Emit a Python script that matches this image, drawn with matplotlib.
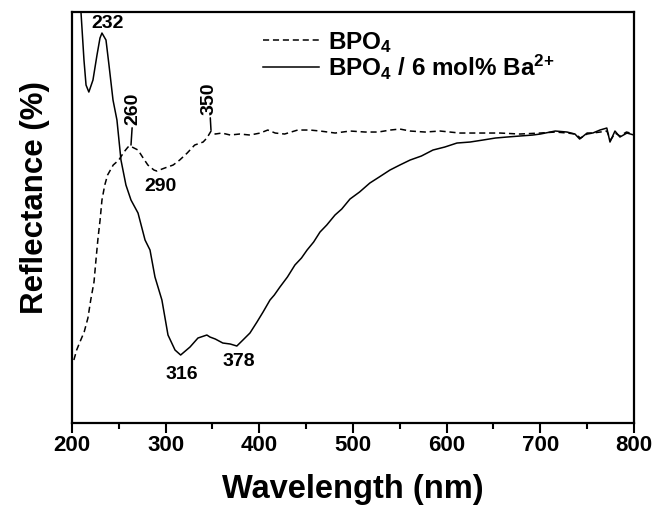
import matplotlib
matplotlib.use("Agg")
import matplotlib.pyplot as plt
from matplotlib.ticker import MultipleLocator

plt.rcParams["font.family"] = ["Liberation Sans", "DejaVu Sans"]
plt.rcParams["font.weight"] = "bold"
plt.rcParams["mathtext.fontset"] = "custom"
plt.rcParams["mathtext.rm"] = "Liberation Sans:bold"
plt.rcParams["mathtext.bf"] = "Liberation Sans:bold"
plt.rcParams["mathtext.default"] = "rm"

# BPO4 (dashed), wavelength in nm, reflectance in arbitrary units
bpo4_wl = [202, 205, 208, 213, 217, 220, 223.5, 225.6, 227.8, 230, 232, 235, 238,
           244, 250, 255.5, 259.8, 262, 270.5, 276, 281, 287.5, 290.5, 299, 308,
           315, 323, 331, 340, 344, 348.5, 353, 360, 369, 379, 390, 401, 409, 417,
           427, 441, 454, 465, 481, 497, 513, 527, 540, 550, 561, 577, 593, 614,
           636, 657, 678, 700, 716, 729, 737, 743, 750, 756, 764, 771, 775, 780,
           785, 792, 800]
bpo4_r = [63, 73, 80, 91, 105, 123, 141, 163, 185, 203, 223, 238, 248,
          258, 263, 271, 276, 277, 273, 265, 258, 253, 252, 255, 258,
          263, 270, 278, 281, 285, 292, 289, 290, 288, 289, 288, 290, 293, 290,
          289, 293, 293, 292, 290, 292, 291, 291, 293, 294, 292, 291, 292, 290,
          290, 290, 289, 290, 291, 290, 289, 285, 289, 290, 291, 292, 283, 290,
          287, 291, 289]

# BPO4 / 6 mol% Ba2+ (solid)
ba_wl = [206, 209.6, 212.8, 215, 218, 222.4, 226.7, 229.9, 232, 236.3, 239.5,
         243.8, 248, 252.3, 257.6, 263, 270.5, 278, 283.3, 288.6, 296, 302.5,
         310, 316, 326, 334.5, 344, 347.3, 353, 361, 369, 376, 382.5, 390, 397.5,
         404, 411.4, 416, 422, 430, 438, 445, 451, 458, 464.8, 472, 480.8, 488,
         496.8, 507, 518, 528, 539.5, 550, 561, 573, 585.4, 598, 611, 625,
         638.8, 652, 664.4, 678, 692, 700, 716, 728.5, 737, 742, 750, 756, 763.7,
         771, 774.4, 779.7, 785, 792.5, 800]
ba_r = [443, 411, 363, 338, 331, 343, 368, 385, 390, 383, 358,
        323, 303, 263, 238, 223, 210, 183, 173, 146, 123, 88,
        73, 68, 76, 85, 88, 86, 84, 80, 79, 77, 83, 90, 101,
        111, 123, 128, 136, 146, 158, 165, 173, 181, 191, 198, 208, 214,
        224, 231, 240, 246, 253, 258, 263, 267, 273, 276, 280, 281,
        283, 285, 286, 287, 288, 289, 292, 291, 289, 284, 290, 290, 293,
        295, 281, 292, 286, 290, 288]

peak_labels = ["232", "260", "290", "316", "350", "378"]

fig = plt.figure(figsize=(6.55, 5.08), dpi=100)
ax = fig.add_axes([0.1099, 0.1673, 0.858, 0.809])

ax.plot(bpo4_wl, bpo4_r, color="black", lw=1.1, ls=(0, (4, 2.5)), label="BPO$_4$")
ax.plot(ba_wl, ba_r, color="black", lw=1.1, label="BPO$_4$ / 6 mol% Ba$^{2{+}}$")

ax.set_xlim(200, 800)
ax.set_ylim(0, 411)

# peak annotations
fs_ann = 14
ax.text(237.5, 400, peak_labels[0], ha="center", va="center", fontsize=fs_ann)
ax.annotate(peak_labels[1], xy=(263, 278), xytext=(265.5, 298), rotation=90,
            ha="center", va="bottom", fontsize=fs_ann,
            arrowprops=dict(arrowstyle="-", lw=1.1, shrinkA=0, shrinkB=0))
ax.text(294, 237, peak_labels[2], ha="center", va="center", fontsize=fs_ann)
ax.text(317.5, 49, peak_labels[3], ha="center", va="center", fontsize=fs_ann)
ax.annotate(peak_labels[4], xy=(348.4, 293), xytext=(346.5, 308), rotation=90,
            ha="center", va="bottom", fontsize=fs_ann,
            arrowprops=dict(arrowstyle="-", lw=1.1, shrinkA=0, shrinkB=0))
ax.text(378.5, 62, peak_labels[5], ha="center", va="center", fontsize=fs_ann)

ax.set_xlabel("Wavelength (nm)", fontsize=23.5, fontweight="bold", labelpad=13)
ax.set_ylabel("Reflectance (%)", fontsize=22.5, fontweight="bold")
ax.yaxis.set_label_coords(-0.04, 0.548)

ax.xaxis.set_major_locator(MultipleLocator(100))
ax.xaxis.set_minor_locator(MultipleLocator(50))
ax.tick_params(axis="x", which="major", direction="out", length=7, width=1.5,
               labelsize=16, pad=1.5)
ax.tick_params(axis="x", which="minor", direction="out", length=4, width=1.5)
ax.set_yticks([])
for s in ax.spines.values():
    s.set_linewidth(1.6)

leg = ax.legend(loc="upper left", bbox_to_anchor=(0.31, 0.998), frameon=False,
                fontsize=17.5, handlelength=2.3, handletextpad=0.35,
                labelspacing=-0.08, borderpad=0.2)

fig.savefig("out.png", dpi=100)
